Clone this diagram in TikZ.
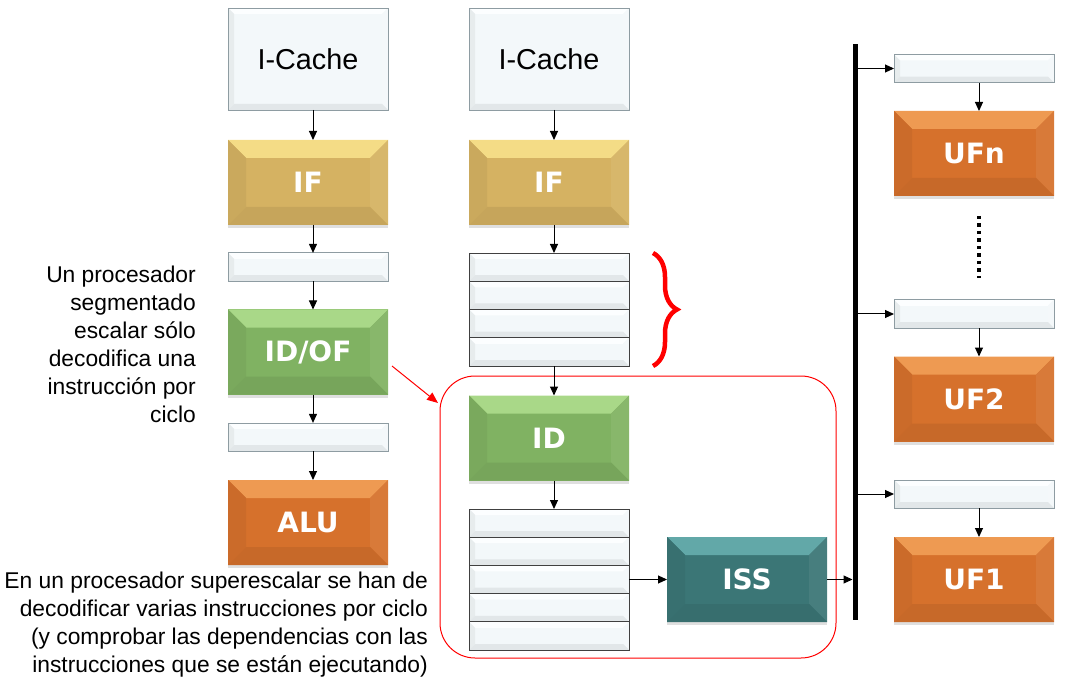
\documentclass[tikz,border=0pt]{standalone}
\usepackage{fontspec}
\setmainfont{Liberation Sans}
\newfontfamily\lblfont{DejaVu Sans}
\usepackage{tikz}
\usetikzlibrary{arrows.meta,shadows,decorations.pathreplacing}

\definecolor{ifbase}{HTML}{D5B262}
\definecolor{iftop}{HTML}{F4DC86}
\definecolor{idbase}{HTML}{80B262}
\definecolor{idtop}{HTML}{A9D888}
\definecolor{fubase}{HTML}{D6712C}
\definecolor{futop}{HTML}{EE9A52}
\definecolor{issbase}{HTML}{3B7676}
\definecolor{isstop}{HTML}{62A8A8}
\definecolor{regbase}{HTML}{F3F8FA}
\definecolor{regtop}{HTML}{FCFEFF}
\definecolor{regline}{HTML}{8E9CA2}

\begin{document}
\begin{tikzpicture}[x=1pt,y=-1pt,
  bevel/.style n args={3}{fill=#1, path picture={
    \path (path picture bounding box.north west) coordinate (pa)
          (path picture bounding box.north east) coordinate (pb)
          (path picture bounding box.south east) coordinate (pc)
          (path picture bounding box.south west) coordinate (pd);
    \fill[#2] (pa) -- (pb) -- ([shift={(-#3,-#3)}]pb) -- ([shift={(#3,-#3)}]pa) -- cycle;
    \fill[#1!95!black] (pa) -- ([shift={(#3,-#3)}]pa) -- ([shift={(#3,#3)}]pd) -- (pd) -- cycle;
    \fill[#1!94!white] (pb) -- ([shift={(-#3,-#3)}]pb) -- ([shift={(-#3,#3)}]pc) -- (pc) -- cycle;
    \fill[#1!93!black] (pd) -- ([shift={(#3,#3)}]pd) -- ([shift={(-#3,#3)}]pc) -- (pc) -- cycle;
  }},
  stage/.style 2 args={bevel={#1}{#2}{18pt}, minimum width=160pt, minimum height=85pt,
    inner sep=0pt, outer sep=0pt, text=white, font=\lblfont\bfseries\fontsize{28}{30}\selectfont,
    drop shadow={shadow xshift=0pt, shadow yshift=-3pt, opacity=.25}},
  reg/.style={bevel={regbase}{regtop}{6pt}, draw=regline, line width=0.8pt,
    minimum width=160pt, minimum height=28.2pt, inner sep=0pt, outer sep=0pt},
  row/.style={reg, draw=black!75},
  cache/.style={reg, minimum height=102pt, font=\fontsize{28.8}{32}\selectfont},
  note/.style={inner sep=0pt, align=right, anchor=north east, font=\fontsize{22.8}{28}\selectfont},
  flow/.style={-{Triangle[length=9pt,width=8pt]}, line width=1pt},
  down/.style={flow, transform canvas={xshift=5pt}}]

\useasboundingbox (0,0) rectangle (1077,695);

% red frame round the superscalar decode
\node[draw=red, line width=1pt, rounded corners=35pt, minimum width=396pt, minimum height=282pt] (decod) at (638,517) {};

% scalar pipeline
\node[cache] (ica) at (308,59) {I-Cache};
\node[stage={ifbase}{iftop}] (ifa) at (308,182.5) {IF};
\node[reg] (ra) at (308,267) {};
\node[stage={idbase}{idtop}] (idof) at (308,352) {ID/OF};
\node[reg] (rb) at (308,437) {};
\node[stage={fubase}{futop}] (alu) at (308,522.5) {ALU};

\draw[down] (ica) -- (ifa);
\draw[down] (ifa) -- (ra);
\draw[down] (ra) -- (idof);
\draw[down] (idof) -- (rb);
\draw[down] (rb) -- (alu);

% superscalar pipeline
\node[cache] (icb) at (549,59) {I-Cache};
\node[stage={ifbase}{iftop}] (ifb) at (549,182.5) {IF};
\node[row] (sa) at (549,267.1) {};
\node[row] (sb) at (549,295.4) {};
\node[row] (sc) at (549,323.6) {};
\node[row] (sd) at (549,351.9) {};
\node[stage={idbase}{idtop}] (id) at (549,438) {ID};
\node[row] (ta) at (549,523.1) {};
\node[row] (tb) at (549,551.3) {};
\node[row] (tc) at (549,579.5) {};
\node[row] (td) at (549,607.7) {};
\node[row] (te) at (549,635.9) {};
\node[stage={issbase}{isstop}] (iss) at (747,579.5) {ISS};

\draw[down] (icb) -- (ifb);
\draw[down] (ifb) -- (sa);
\draw[down] (sd) -- (id);
\draw[down] (id) -- (ta);
\draw[flow] (tc.east) -- (tc.east -| iss.west);

% bus and functional units
\node[fill=black, minimum width=5pt, minimum height=576pt, inner sep=0pt, outer sep=0pt] (bus) at (855,332) {};
\draw[flow] (iss.east) -- (iss.east -| bus.west);

\node[reg] (rn) at (974,68.5) {};
\node[stage={fubase}{futop}] (ufn) at (974,153.5) {UFn};
\node[reg] (rtwo) at (974,314) {};
\node[stage={fubase}{futop}] (uftwo) at (974,399) {UF2};
\node[reg] (rone) at (974,494) {};
\node[stage={fubase}{futop}] (ufone) at (974,579.5) {UF1};

\draw[flow] (bus.east |- rn.west) -- (rn.west);
\draw[flow] (bus.east |- rtwo.west) -- (rtwo.west);
\draw[flow] (bus.east |- rone.west) -- (rone.west);
\draw[down] (rn) -- (ufn);
\draw[down] (rtwo) -- (uftwo);
\draw[down] (rone) -- (ufone);
\draw[line width=3.5pt, dash pattern=on 3.5pt off 4pt] ([shift={(5pt,-20pt)}]ufn.south) -- ([shift={(5pt,22pt)}]rtwo.north);

% brace and pointer
\draw[red, line width=4.5pt, decorate, decoration={brace, amplitude=24pt}] (653,253) -- (653,366);
\coordinate (tipa) at (438,403);
\draw[red, line width=1pt, -{Triangle[length=11pt,width=9pt]}] ([shift={(4pt,-14pt)}]idof.east) -- (tipa);

% notes
\node[note] (escalar) at (196,265.5) {Un procesador\\segmentado\\escalar sólo\\decodifica una\\instrucción por\\ciclo};
\node[note] (superesc) at (428,571.5) {En un procesador superescalar se han de\\decodificar varias instrucciones por ciclo\\(y comprobar las dependencias con las\\instrucciones que se están ejecutando)};

\end{tikzpicture}
\end{document}
